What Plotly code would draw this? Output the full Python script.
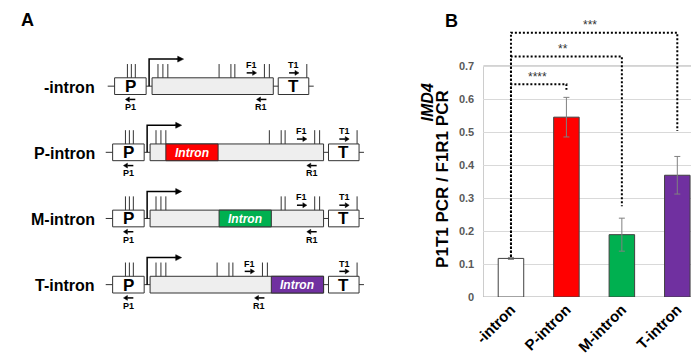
import plotly.graph_objects as go

# ---------------- Panel B data ----------------
categories = ["-intron", "P-intron", "M-intron", "T-intron"]
ratio_mean = [0.117, 0.545, 0.189, 0.369]
ratio_err = [0.003, 0.060, 0.050, 0.057]
bar_colors = ["#ffffff", "#ff0000", "#00b050", "#7030a0"]
y_ticks = [0, 0.1, 0.2, 0.3, 0.4, 0.5, 0.6, 0.7]
y_tick_labels = ["0", "0.1", "0.2", "0.3", "0.4", "0.5", "0.6", "0.7"]

# significance brackets (reference bar is index 0)
sig_targets = [1, 2, 3]
sig_levels = [0.645, 0.729, 0.801]
sig_drop_to = [0.628, 0.275, 0.503]
sig_labels = ["****", "**", "***"]
sig_label_x = [0.48, 0.94, 1.42]
sig_start = 0.122

# ---------------- Panel A schematic ----------------
construct_names = ["-intron", "P-intron", "M-intron", "T-intron"]
intron_sites = [None, 16, 70, 123]
intron_colors = [None, "#ff0000", "#00b050", "#7030a0"]
construct_left = [98, 96, 96, 96]
exon_ticks = [6, 11, 16, 68, 80, 84, 114, 119]
promoter_ticks = [13, 17, 21]

W, H = 699, 355
FONT = "Arial, Liberation Sans, sans-serif"
EDGE = "#333333"
Y_TOP = 0.86
PX_PER_UNIT = 335.7

fig = go.Figure()

fig.add_trace(go.Bar(
    x=categories, y=ratio_mean, width=0.46,
    marker=dict(color=bar_colors, line=dict(color="#404040", width=1)),
    error_y=dict(type="data", array=ratio_err, color="#808080", thickness=1, width=3),
    showlegend=False, hoverinfo="skip"))

for t, lv, dr in zip(sig_targets, sig_levels, sig_drop_to):
    fig.add_trace(go.Scatter(
        x=[categories[0], categories[0], categories[t], categories[t]],
        y=[sig_start, lv, lv, dr], mode="lines",
        line=dict(color="black", width=2, dash="2px,2px"),
        showlegend=False, hoverinfo="skip"))

# invisible trace on the schematic axes
fig.add_trace(go.Scatter(x=[0], y=[0], xaxis="x2", yaxis="y2", mode="markers",
                         marker=dict(opacity=0), showlegend=False, hoverinfo="skip"))

shapes = []
annots = []

# frame of plot area
shapes.append(dict(type="rect", xref="x", yref="y", x0=-0.5, x1=3.5, y0=0, y1=0.7,
                   line=dict(color="#a6a6a6", width=1), layer="below"))

for lab, lx, lv in zip(sig_labels, sig_label_x, sig_levels):
    annots.append(dict(x=lx, y=lv + 0.022, xref="x", yref="y", text=lab, showarrow=False,
                       font=dict(family=FONT, size=12, color="#333333")))


def ln(x0, y0, x1, y1, w=1, c=EDGE):
    shapes.append(dict(type="line", xref="x2", yref="y2", x0=x0, y0=y0, x1=x1, y1=y1,
                       line=dict(color=c, width=w)))


def rect(x0, y0, x1, y1, fill, c=EDGE):
    shapes.append(dict(type="rect", xref="x2", yref="y2", x0=x0, y0=y0, x1=x1, y1=y1,
                       fillcolor=fill, line=dict(color=c, width=1)))


def arrow(xt, xh, y, hl=4, hw=2.5, w=1.5):
    s = 1 if xh > xt else -1
    ln(xt, y, xh - s * hl, y, w=w, c="black")
    shapes.append(dict(type="path", xref="x2", yref="y2",
                       path=f"M {xh},{y} L {xh - s*hl},{y - hw} L {xh - s*hl},{y + hw} Z",
                       fillcolor="black", line=dict(color="black", width=0.5)))


def txt(x, y, s, size, color="black", bold=True, italic=False, xanchor="center", angle=0):
    t = s
    if italic:
        t = f"<i>{t}</i>"
    if bold:
        t = f"<b>{t}</b>"
    annots.append(dict(x=x, y=y, xref="x2", yref="y2", text=t, showarrow=False,
                       xanchor=xanchor, yanchor="middle", textangle=angle,
                       font=dict(family=FONT, size=size, color=color)))


for i, name in enumerate(construct_names):
    yt = 71 + i * 67.3
    yc = yt + 8.5
    yb = yt + 17
    site = intron_sites[i]
    x0 = construct_left[i]
    p_l, p_r = x0, x0 + 32
    gs = p_r + 6
    ilen = 53 if site is not None else 0
    ge = gs + 123 + ilen
    t_l = ge + 5
    t_r = t_l + 31

    def ex(pos):
        return gs + pos + (ilen if (site is not None and pos > site) else 0)

    ln(x0 - 7, yc, t_r + 5, yc)
    rect(p_l, yt, p_r, yb, "white")
    rect(gs, yt, ge, yb, "#eeeeee")
    rect(t_l, yt, t_r, yb, "white")
    if site is not None:
        rect(gs + site, yt, gs + site + ilen, yb, intron_colors[i])
        txt(gs + site + ilen / 2, yc + 0.5, "Intron", 12, color="white", italic=True)

    # ticks
    for p in promoter_ticks:
        ln(p_l + p, yt, p_l + p, yt - 14)
    for p in exon_ticks:
        if site is not None and 0 < site - p <= 3:
            continue
        ln(ex(p), yt, ex(p), yt - 14)
    ln(t_l + 29, yt, t_l + 29, yt - 14)

    # transcription start
    xs = gs - 3
    shapes.append(dict(type="path", xref="x2", yref="y2",
                       path=f"M {xs},{yc} L {xs},{yt-19} L {xs+29},{yt-19}",
                       line=dict(color="black", width=1.5)))
    arrow(xs + 28, xs + 35, yt - 19, hl=6, hw=3)

    # primers
    arrow(ex(96), ex(106), yt - 5)
    txt(ex(101), yt - 13, "F1", 9)
    arrow(t_l + 11, t_l + 21, yt - 5)
    txt(t_l + 16, yt - 13, "T1", 9)
    arrow(p_l + 21, p_l + 11, yt + 22)
    txt(p_l + 16, yt + 30, "P1", 9)
    arrow(ex(116), ex(106), yt + 22)
    txt(ex(111), yt + 30, "R1", 9)

    txt((p_l + p_r) / 2, yc + 0.5, "P", 17)
    txt((t_l + t_r) / 2, yc + 0.5, "T", 17)
    txt(80, yc + 1, name, 16, xanchor="right")

# panel letters and y title
txt(10, 12, "A", 18)
txt(440, 13, "B", 18)
txt(415, 96, "IMD4", 16, italic=True, angle=-90)
txt(430, 174, "P1T1 PCR / F1R1 PCR", 17, angle=-90)

y_bottom_px = 294
y_top_px = y_bottom_px - Y_TOP * PX_PER_UNIT

fig.update_layout(
    width=W, height=H, margin=dict(l=0, r=0, t=0, b=0),
    paper_bgcolor="white", plot_bgcolor="rgba(0,0,0,0)",
    shapes=shapes, annotations=annots, bargap=0.5,
    xaxis=dict(domain=[472 / W, 697 / W], range=[-0.5, 3.5], showline=False, showgrid=False,
               ticks="", tickangle=-45, zeroline=False,
               tickfont=dict(family=FONT, size=15, color="black"),
               tickmode="array", tickvals=categories,
               ticktext=[f"<b>{c}</b>" for c in categories]),
    yaxis=dict(domain=[(H - y_bottom_px) / H, 1 - y_top_px / H], range=[0, Y_TOP],
               tickvals=y_ticks,
               ticktext=[f"<b>{t}</b>" for t in y_tick_labels], showgrid=True,
               gridcolor="#d9d9d9", gridwidth=1, zeroline=False, showline=False, ticks="",
               ticklabelstandoff=8, tickfont=dict(family=FONT, size=11, color="#595959")),
    xaxis2=dict(domain=[0, 1], range=[0, W], visible=False, anchor="y2", fixedrange=True),
    yaxis2=dict(domain=[0, 1], range=[H, 0], visible=False, anchor="x2", fixedrange=True),
)

fig.write_html("out.html")
